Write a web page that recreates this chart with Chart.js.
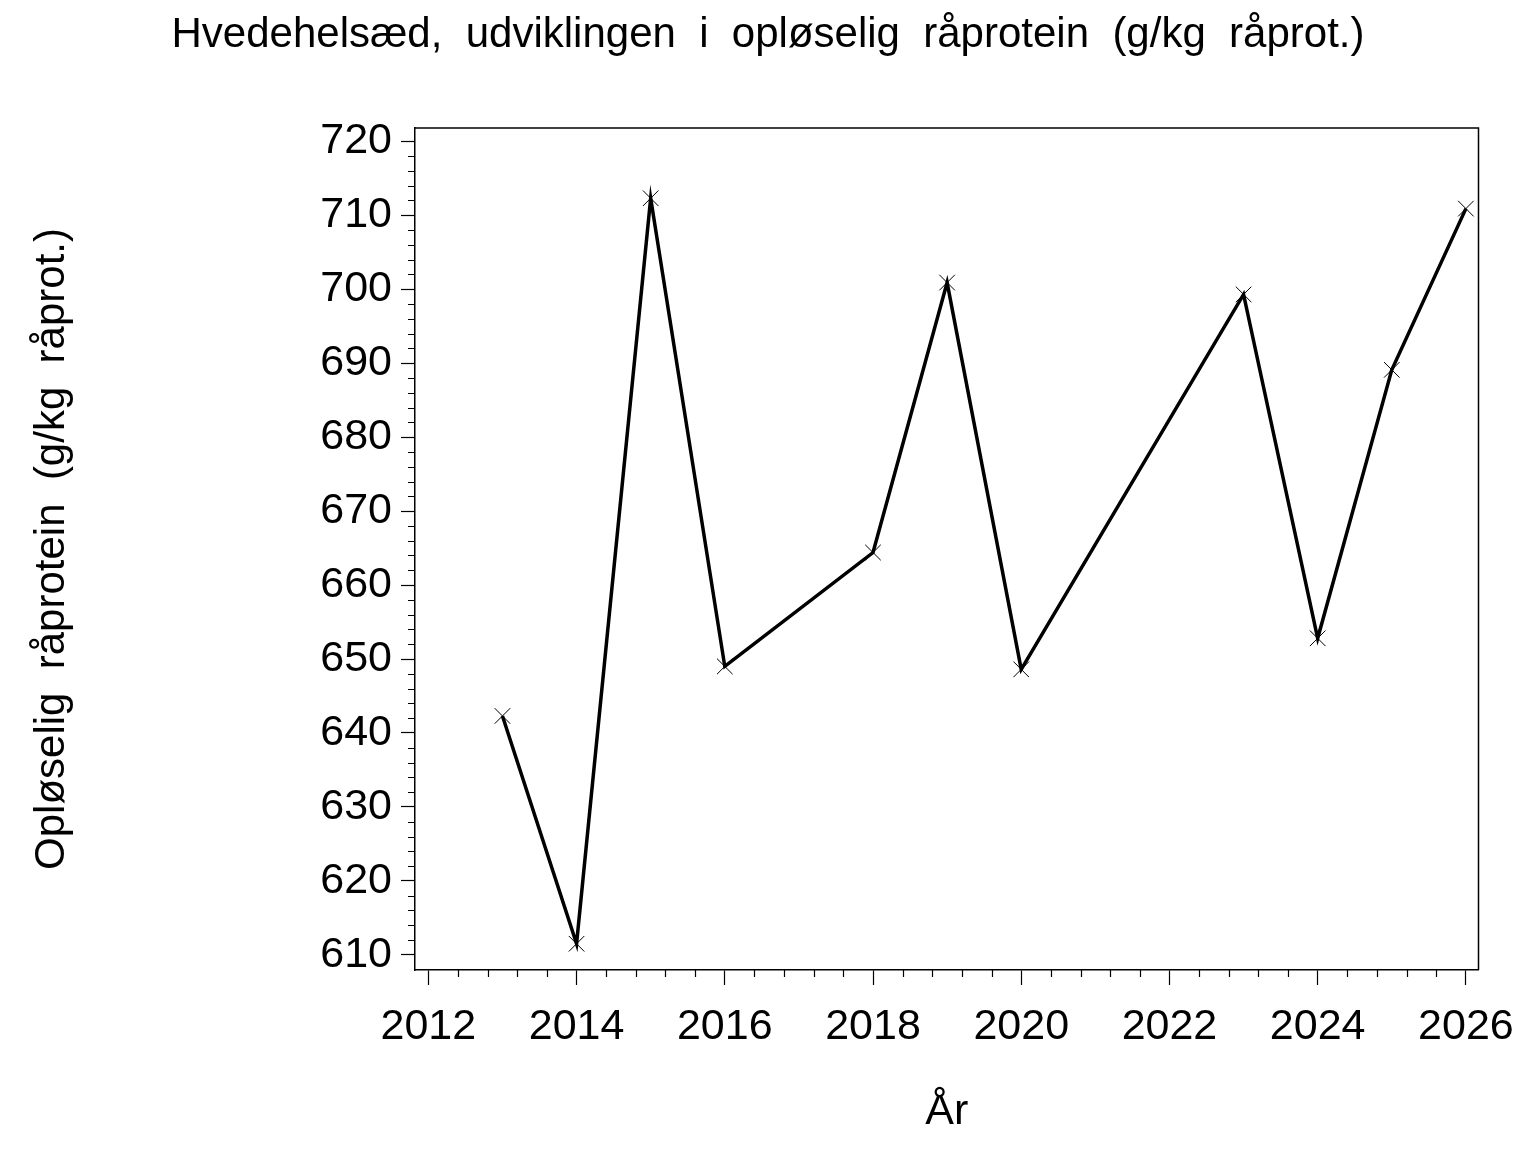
<!DOCTYPE html>
<html>
<head>
<meta charset="utf-8">
<script src="https://cdn.jsdelivr.net/npm/chart.js@4/dist/chart.umd.min.js"></script>
<style>
  html, body { margin: 0; padding: 0; background: #fff; }
  #wrap { width: 1536px; height: 1152px; position: relative; }
</style>
</head>
<body>
<div id="wrap"><canvas id="graf"></canvas></div>
<script>
// aar og oploeselig raaprotein (g/kg raaprot.)
const aar = [2013, 2014, 2015, 2016, 2018, 2019, 2020, 2023, 2024, 2025, 2026];
const raaprotein = [642.3, 611.5, 712.3, 649.0, 664.4, 700.9, 648.6, 699.3, 652.8, 689.1, 710.9];

const xTicks = [2012, 2014, 2016, 2018, 2020, 2022, 2024, 2026];
const yTicks = [610, 620, 630, 640, 650, 660, 670, 680, 690, 700, 710, 720];

const fontFam = "'Liberation Sans', Arial, sans-serif";

// ramme + smaa ticks
const rammePlugin = {
  id: 'ramme',
  afterDraw(chart) {
    const {ctx, chartArea: a, scales} = chart;
    ctx.save();
    ctx.strokeStyle = '#000';
    ctx.lineWidth = 1.5;
    ctx.beginPath();
    ctx.moveTo(a.left, a.top);
    ctx.lineTo(a.right, a.top);
    ctx.lineTo(a.right, a.bottom);
    ctx.stroke();

    ctx.lineWidth = 1.2;
    ctx.beginPath();
    for (let i = 0; i <= 35; i++) {
      if (i % 5 === 0) continue;
      const px = Math.round(scales.x.getPixelForValue(2012 + i * 0.4)) + 0.5;
      ctx.moveTo(px, a.bottom);
      ctx.lineTo(px, a.bottom + 7);
    }
    for (let v = 612; v < 720; v += 2) {
      if (v % 10 === 0) continue;
      const py = Math.round(scales.y.getPixelForValue(v)) + 0.5;
      ctx.moveTo(a.left - 7, py);
      ctx.lineTo(a.left, py);
    }
    ctx.stroke();
    ctx.restore();
  }
};

new Chart(document.getElementById('graf'), {
  type: 'line',
  data: {
    datasets: [{
      label: 'Opløselig råprotein',
      data: aar.map((a, i) => ({x: a, y: raaprotein[i]})),
      borderColor: '#000',
      borderWidth: 3.5,
      tension: 0,
      pointStyle: 'crossRot',
      pointRadius: 11,
      pointHoverRadius: 11,
      pointBorderWidth: 1,
      pointBorderColor: '#000',
      pointBackgroundColor: '#000'
    }]
  },
  options: {
    animation: false,
    responsive: true,
    maintainAspectRatio: false,
    devicePixelRatio: 1,
    layout: { padding: 0 },
    plugins: {
      legend: { display: false },
      tooltip: { enabled: false },
      title: {
        display: true,
        text: 'Hvedehelsæd,  udviklingen  i  opløselig  råprotein  (g/kg  råprot.)',
        color: '#000',
        font: { family: fontFam, size: 42, weight: 'normal', lineHeight: 1.2 },
        padding: { top: 10, bottom: 67.6 }
      }
    },
    scales: {
      x: {
        type: 'linear',
        min: 2011.82,
        max: 2026.17,
        afterBuildTicks: (s) => { s.ticks = xTicks.map(v => ({value: v})); },
        afterFit: (s) => { s.height = 182; },
        ticks: {
          color: '#000',
          padding: 16,
          maxRotation: 0,
          autoSkip: false,
          font: { family: fontFam, size: 43 },
          callback: (v) => String(v)
        },
        grid: { drawOnChartArea: false, drawTicks: true, tickLength: 15, tickWidth: 1.2, tickColor: '#000' },
        border: { display: true, color: '#000', width: 1.5 },
        title: {
          display: true,
          text: 'År',
          color: '#000',
          font: { family: fontFam, size: 43, lineHeight: 1.2 },
          padding: { top: 0, bottom: 14 }
        }
      },
      y: {
        type: 'linear',
        min: 607.95,
        max: 721.8,
        afterBuildTicks: (s) => { s.ticks = yTicks.map(v => ({value: v})); },
        afterFit: (s) => { s.width = 415; },
        ticks: {
          color: '#000',
          padding: 9,
          autoSkip: false,
          font: { family: fontFam, size: 43 },
          callback: (v) => String(v)
        },
        grid: { drawOnChartArea: false, drawTicks: true, tickLength: 14, tickWidth: 1.2, tickColor: '#000' },
        border: { display: true, color: '#000', width: 1.5 },
        title: {
          display: true,
          text: 'Opløselig  råprotein  (g/kg  råprot.)',
          color: '#000',
          font: { family: fontFam, size: 42, lineHeight: 1.2 },
          padding: { top: 27, bottom: 0 }
        }
      },
      // tom akse til hoejre, kun for at holde plads
      yHoejre: {
        type: 'linear',
        position: 'right',
        min: 607.95,
        max: 721.8,
        afterFit: (s) => { s.width = 57.5; },
        ticks: { display: false },
        grid: { display: false },
        border: { display: false }
      }
    }
  },
  plugins: [rammePlugin]
});
</script>
</body>
</html>
